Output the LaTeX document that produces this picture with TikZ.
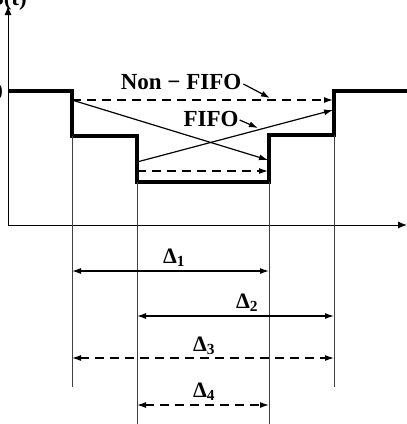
\documentclass[tikz,border=0pt]{standalone}
\usepackage{fontspec}
\setmainfont{Liberation Serif}
\usetikzlibrary{arrows.meta}
\tikzset{
  curve/.style={line width=3.2pt, line join=miter},
  guide/.style={line width=0.8pt, black!75},
  axis/.style={-{Latex[length=9pt, width=7pt]}, line width=1pt},
  flow/.style={-{Latex[length=9pt, width=6pt]}, line width=1.2pt},
  span/.style={{Latex[length=9pt, width=6pt]}-{Latex[length=9pt, width=6pt]}, line width=1.2pt},
  tag/.style={font=\bfseries\fontsize{23}{25}\selectfont, inner sep=0pt},
  dtag/.style={font=\bfseries\fontsize{22}{24}\selectfont, inner sep=0pt},
}

\begin{document}
\begin{tikzpicture}[x=1pt, y=-1pt]
  \useasboundingbox (0,0) rectangle (407,424);

  % axes
  \coordinate (org)  at (8,225);
  \coordinate (ytop) at (8,6);
  \coordinate (xend) at (407,225);
  \draw[axis] (org) -- (ytop);
  \draw[axis] (org) -- (xend);
  \node[tag, anchor=base east] (ylab) at (27,5) {B(t)};
  \node[tag, anchor=east] (lvl) at (3,92) {0};

  % step profile
  \coordinate (s0) at (8,91);
  \coordinate (s1) at (72,91);
  \coordinate (s2) at (72,136);
  \coordinate (s3) at (137,136);
  \coordinate (s4) at (137,182);
  \coordinate (s5) at (269,182);
  \coordinate (s6) at (269,135);
  \coordinate (s7) at (334,135);
  \coordinate (s8) at (334,91);
  \coordinate (s9) at (407,91);
  \draw[curve] (s0) -- (s1) -- (s2) -- (s3) -- (s4) -- (s5) -- (s6) -- (s7) -- (s8) -- (s9);

  % guide lines
  \coordinate (g1) at (72,387);
  \coordinate (g2) at (137,424);
  \coordinate (g3) at (269,424);
  \coordinate (g4) at (334,387);
  \draw[guide] (s2) -- (g1);
  \draw[guide] (s4) -- (g2);
  \draw[guide] (s5) -- (g3);
  \draw[guide] (s7) -- (g4);

  % packet paths
  \coordinate (hiA) at (72,100);
  \coordinate (hiB) at (333,100);
  \coordinate (loA) at (137,171);
  \coordinate (loB) at (268,171);
  \coordinate (xA)  at (137,162);
  \coordinate (xB)  at (333,110);
  \coordinate (xC)  at (268,160);
  \draw[flow, dashed, dash pattern=on 9pt off 6pt] (hiA) -- (hiB);
  \draw[flow, dashed, dash pattern=on 9pt off 6pt] (loA) -- (loB);
  \draw[flow] (hiA) -- (xC);
  \draw[flow] (xA) -- (xB);

  \node[tag] (nonfifo) at (181,82) {Non − FIFO};
  \coordinate (nfp) at (270,98);
  \draw[flow] (nonfifo.east) ++(2,2) coordinate (nfs) (nfs) -- (nfp);
  \node[tag] (fifo) at (211,119) {FIFO};
  \coordinate (fp) at (258,128);
  \draw[flow] (fifo.east) ++(1,1) coordinate (fs) (fs) -- (fp);

  % delays
  \coordinate (d1a) at (72,271);  \coordinate (d1b) at (269,271);
  \coordinate (d2a) at (137,316); \coordinate (d2b) at (334,316);
  \coordinate (d3a) at (72,358);  \coordinate (d3b) at (334,358);
  \coordinate (d4a) at (137,405); \coordinate (d4b) at (269,405);
  \draw[span] (d1a) -- (d1b);
  \draw[span] (d2a) -- (d2b);
  \draw[span, dashed, dash pattern=on 9pt off 6pt] (d3a) -- (d3b);
  \draw[span, dashed, dash pattern=on 9pt off 6pt] (d4a) -- (d4b);
  \node[dtag] (del1) at (174,258) {Δ\textsubscript{1}};
  \node[dtag] (del2) at (247,303) {Δ\textsubscript{2}};
  \node[dtag] (del3) at (204,346) {Δ\textsubscript{3}};
  \node[dtag] (del4) at (204,392) {Δ\textsubscript{4}};
\end{tikzpicture}
\end{document}
